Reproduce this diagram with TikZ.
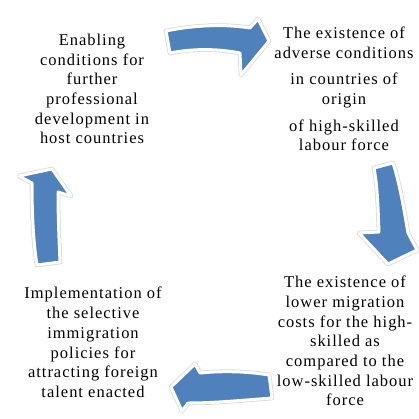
\documentclass[tikz,border=0pt]{standalone}
\usepackage{fontspec}
\setmainfont[LetterSpace=6]{Liberation Serif}
\definecolor{arrowblue}{RGB}{79,129,189}
\begin{document}
\begin{tikzpicture}[x=1pt,y=-1pt,
  blockarrow/.style={fill=arrowblue, draw=white, line width=3pt, line join=round,
    preaction={draw=black!15, line width=4.6pt, line join=round}},
  cycletext/.style={align=center, inner sep=0pt, font=\fontsize{16.5}{19.7}\selectfont}]
\useasboundingbox (0,0) rectangle (419,418);
% top arrow (pointing right)
\path[blockarrow] (166,31) .. controls (195,25) and (225,24) .. (250,28)
  -- (258,19) -- (269,41) -- (241,75) -- (240,53)
  .. controls (215,48) and (190,49) .. (170,53) -- cycle;
% right arrow (pointing down)
\path[blockarrow] (374,168) .. controls (378,190) and (378,210) .. (379,232)
  -- (359,233) -- (388,264) -- (417,250) -- (408,233)
  .. controls (404,210) and (400,185) .. (393,163) -- cycle;
% bottom arrow (pointing left)
\path[blockarrow] (269,375) .. controls (245,371) and (220,371) .. (200,373)
  -- (195,364) -- (171,387) -- (182,411) -- (188,403)
  .. controls (215,403) and (245,400) .. (272,398) -- cycle;
% left arrow (pointing up)
\path[blockarrow] (37,265) .. controls (33,240) and (32,210) .. (32,183)
  -- (19,176) -- (52,169) -- (71,196) -- (58,192)
  .. controls (58,215) and (59,240) .. (60,262) -- cycle;
% texts
\node[cycletext] (t1) at (92,89) {Enabling\\conditions for\\further\\professional\\development in\\host countries};
\node[cycletext] (t2) at (344,89) {The existence of\\adverse conditions\\[7pt]in countries of\\origin\\[7pt]of high-skilled\\labour force};
\node[cycletext] (t3) at (345,341) {The existence of\\lower migration\\costs for the high-\\skilled as\\compared to the\\low-skilled labour\\force};
\node[cycletext] (t4) at (93,342.5) {Implementation of\\the selective\\immigration\\policies for\\attracting foreign\\talent enacted};
\end{tikzpicture}
\end{document}
